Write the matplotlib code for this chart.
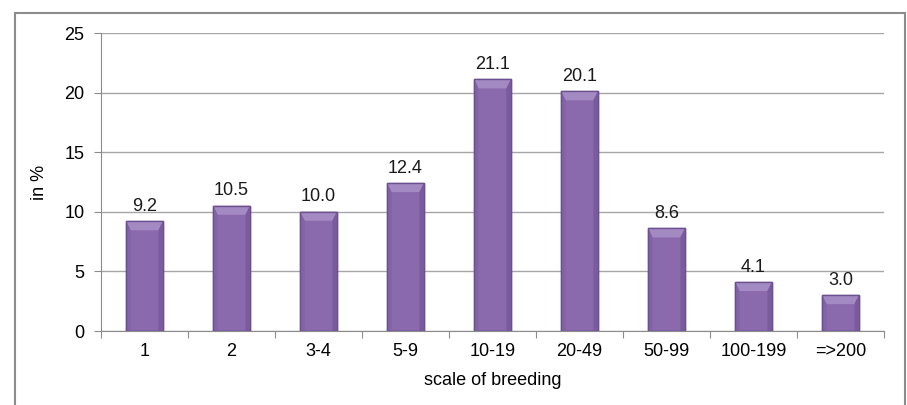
import numpy as np
import matplotlib.pyplot as plt
from matplotlib.patches import Rectangle, Polygon

# =========================
# data
# =========================

categories = ["1", "2", "3-4", "5-9", "10-19", "20-49", "50-99", "100-199", "=>200"]
values = [9.2, 10.5, 10.0, 12.4, 21.1, 20.1, 8.6, 4.1, 3.0]
y_ticks = [0, 5, 10, 15, 20, 25]

plt.rcParams['font.family'] = ['Liberation Sans', 'DejaVu Sans']
FS = 13

W, H = 907, 405
fig = plt.figure(figsize=(W / 100, H / 100), dpi=100)

# outer chart frame (bottom edge lies below the visible image)
fig.patches.append(Rectangle((15 / W, -0.05), (905 - 15) / W, 1.05 - 13 / H,
                             transform=fig.transFigure, fill=False,
                             edgecolor='#8c8c8c', linewidth=1.5))

left, right, top, bottom = 101, 884, 33, 331
ax = fig.add_axes([left / W, 1 - bottom / H, (right - left) / W, (bottom - top) / H])

x = np.arange(len(categories))

# =========================
# bars
# =========================

bw = 0.42
ax.bar(x, values, width=bw, color='#8a69ad', edgecolor='#6c518f',
       linewidth=1.0, zorder=3)

# bevel: light trapezoid at the top, slightly darker sides
bev_y = 0.75
bev_x = bw * 0.12
for xi, v in zip(x, values):
    x0, x1 = xi - bw / 2, xi + bw / 2
    ax.add_patch(Polygon([(x0, v), (x1, v), (x1 - bev_x, v - bev_y), (x0 + bev_x, v - bev_y)],
                         closed=True, facecolor='#a48ac2', edgecolor='none', zorder=4))
    ax.add_patch(Polygon([(x0, v), (x0 + bev_x, v - bev_y), (x0 + bev_x, 0), (x0, 0)],
                         closed=True, facecolor='#8163a6', edgecolor='none', zorder=4))
    ax.add_patch(Polygon([(x1, v), (x1 - bev_x, v - bev_y), (x1 - bev_x, 0), (x1, 0)],
                         closed=True, facecolor='#7a5c9e', edgecolor='none', zorder=4))
    ax.add_patch(Rectangle((x0, 0), bw, v, fill=False, edgecolor='#6c518f',
                           linewidth=1.0, zorder=5))

for xi, v in zip(x, values):
    ax.text(xi, v + 0.55, f"{v:.1f}", ha='center', va='bottom', fontsize=FS,
            color='#1a1a1a', zorder=6)

# =========================
# axes
# =========================

ax.set_xlim(-0.5, len(categories) - 0.5)
ax.set_ylim(0, 25)
ax.set_yticks(y_ticks)
ax.yaxis.grid(True, color='#a6a6a6', linewidth=1.0, zorder=0)
ax.set_axisbelow(True)

ax.set_xticks(np.arange(len(categories) + 1) - 0.5)
ax.set_xticklabels([])
ax.set_xticks(x, minor=True)
ax.set_xticklabels(categories, minor=True, fontsize=FS)
ax.tick_params(axis='x', which='minor', length=0, pad=9)
ax.tick_params(axis='x', which='major', length=5, color='#8c8c8c', direction='out')
ax.tick_params(axis='y', length=5, color='#8c8c8c', labelsize=FS, pad=7)

for s in ['top', 'right']:
    ax.spines[s].set_visible(False)
for s in ['left', 'bottom']:
    ax.spines[s].set_color('#8c8c8c')

ax.set_ylabel("in %", fontsize=FS, labelpad=12)
ax.set_xlabel("scale of breeding", fontsize=FS, labelpad=8)

fig.savefig("out.png", dpi=100)
